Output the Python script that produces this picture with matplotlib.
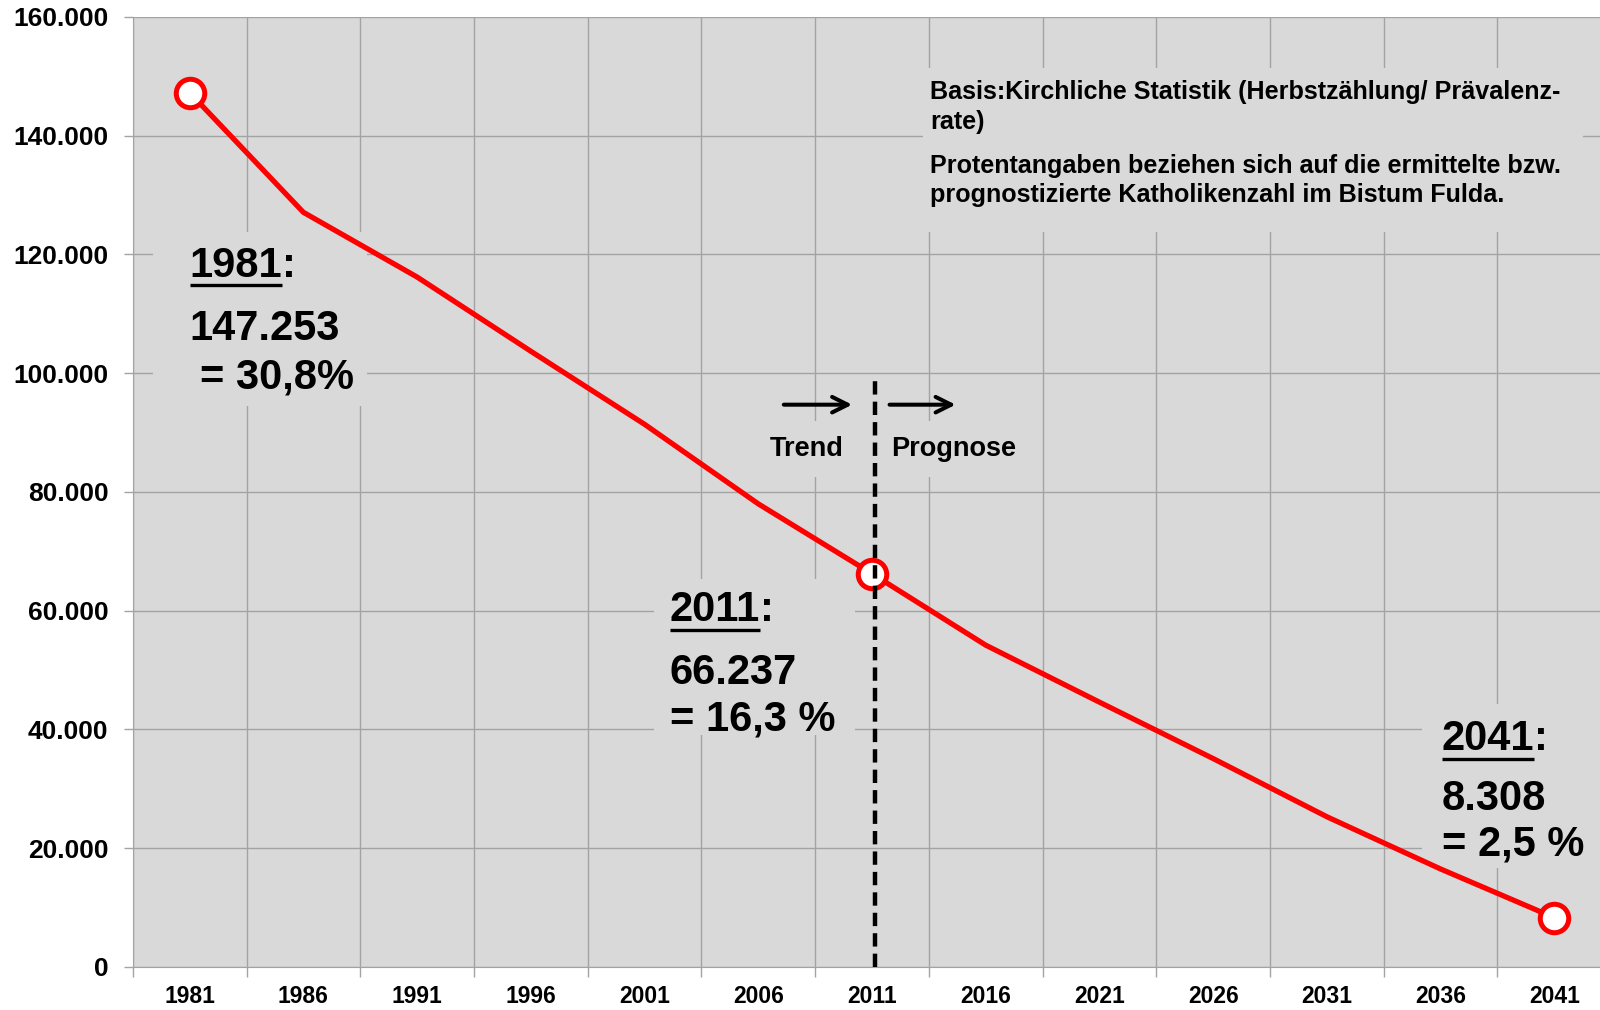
import numpy as np
import matplotlib
matplotlib.use('Agg')
import matplotlib.pyplot as plt
from matplotlib.patches import Rectangle
from matplotlib.ticker import FuncFormatter

# Katholikenzahl Bistum Fulda (Trend bis 2011, danach Prognose)
years = [1981, 1986, 1991, 1996, 2001, 2006, 2011, 2016, 2021, 2026, 2031, 2036, 2041]
katholiken = [147253, 127100, 116200, 103700, 91400, 78000, 66237,
              54200, 44600, 35100, 25300, 16500, 8308]
marked = [0, 6, 12]
y_ticks = [0, 20000, 40000, 60000, 80000, 100000, 120000, 140000, 160000]

info_lines = ["Basis:Kirchliche Statistik (Herbstzählung/ Prävalenz-",
              "rate)",
              "Protentangaben beziehen sich auf die ermittelte bzw.",
              "prognostizierte Katholikenzahl im Bistum Fulda."]

plt.rcParams['font.family'] = ['Liberation Sans', 'DejaVu Sans']
plt.rcParams['font.weight'] = 'bold'

bg = '#d9d9d9'
gridc = '#a3a3a3'

fig = plt.figure(figsize=(16, 10.1), dpi=100)
ax = fig.add_axes([0.083, 0.0426, 0.924, 0.9406])
ax.set_facecolor(bg)
ax.set_axisbelow(True)

x = np.arange(len(years))
ax.plot(x, katholiken, color='#ff0000', lw=3.8, zorder=4, solid_joinstyle='round')
ax.plot(x[marked], [katholiken[i] for i in marked], 'o', ms=20.5, mfc='white',
        mec='#ff0000', mew=3.6, zorder=5)

ax.set_xlim(-0.5, 12.5)
ax.set_ylim(0, 160000)
ax.set_xticks(x)
ax.set_xticklabels([str(y) for y in years], fontsize=16.5, fontweight='bold')
ax.set_xticks(np.arange(-0.5, 13, 1), minor=True)
ax.tick_params(axis='x', which='major', length=0, pad=13)
ax.tick_params(axis='x', which='minor', length=7, color=gridc, width=1)
ax.set_yticks(y_ticks)
ax.yaxis.set_major_formatter(FuncFormatter(lambda v, p: f"{int(v):,}".replace(',', '.')))
ax.tick_params(axis='y', length=6.5, pad=11, color=gridc, width=1, labelsize=19)
ax.grid(which='minor', axis='x', color=gridc, lw=1)
ax.grid(which='major', axis='y', color=gridc, lw=1)
for s in ['top', 'right']:
    ax.spines[s].set_visible(False)
for s in ['left', 'bottom']:
    ax.spines[s].set_color(gridc)

# boxes hiding the grid behind the labels
for (x0, x1, y0, y1) in [(-0.32, 1.56, 94500, 123800),
                         (4.08, 5.85, 39000, 65300),
                         (10.84, 12.4, 16700, 44300),
                         (5.06, 7.30, 82600, 92000),
                         (6.45, 12.25, 123800, 151400)]:
    ax.add_patch(Rectangle((x0, y0), x1 - x0, y1 - y0, facecolor=bg,
                           edgecolor='none', zorder=1))

# trend / prognose marker
ax.plot([6.03, 6.03], [0, 99200], color='black', lw=3.2, ls=(0, (3, 1.6)), zorder=6)
arrow = dict(arrowstyle='->', lw=2.9, color='black', mutation_scale=28)
ax.annotate('', xy=(5.85, 94700), xytext=(5.20, 94700), arrowprops=arrow, zorder=6)
ax.annotate('', xy=(6.76, 94700), xytext=(6.13, 94700), arrowprops=arrow, zorder=6)
ax.text(5.43, 86100, 'Trend', fontsize=19.5, ha='center', va='baseline', zorder=6)
ax.text(6.17, 86100, 'Prognose', fontsize=19.5, ha='left', va='baseline', zorder=6)

# info text
for txt, yb in zip(info_lines, [146200, 141200, 133800, 128800]):
    ax.text(6.51, yb, txt, fontsize=18.1, ha='left', va='baseline', zorder=6)

# big labels: year (underlined) + value + share
big = 30
labels = [
    (0.0, 116250, '1981', [(0.0, 105575, '147.253'), (0.09, 97480, '= 30,8%')]),
    (4.22, 58210, '2011', [(4.22, 47700, '66.237'), (4.22, 39790, '= 16,3 %')]),
    (11.01, 36510, '2041', [(11.01, 26520, '8.308'), (11.01, 18770, '= 2,5 %')]),
]
head_texts = []
for xl, yh, yr, rest in labels:
    t = ax.text(xl, yh, yr, fontsize=big, ha='left', va='baseline', zorder=6)
    ax.annotate(':', xy=(1, 0), xycoords=t, fontsize=big, ha='left',
                va='bottom', zorder=6)
    head_texts.append((t, yh))
    for xr, yb, s in rest:
        ax.text(xr, yb, s, fontsize=big, ha='left', va='baseline', zorder=6)

fig.canvas.draw()
inv = ax.transData.inverted()
for t, yh in head_texts:
    bb = t.get_window_extent()
    (xa, _), (xb, _) = inv.transform([(bb.x0, bb.y0), (bb.x1, bb.y0)])
    ax.plot([xa, xb], [yh - 1400, yh - 1400], color='black', lw=2.4,
            solid_capstyle='butt', zorder=6)

fig.savefig('out.png', dpi=100)
